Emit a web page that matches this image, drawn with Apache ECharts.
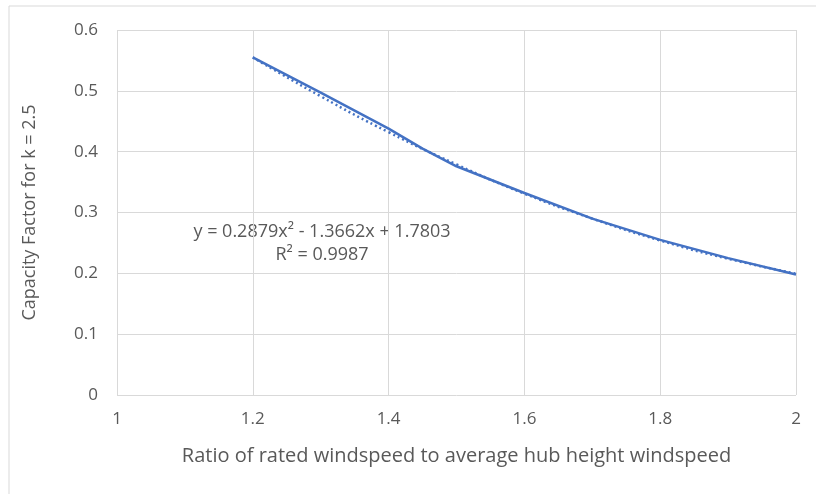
<!DOCTYPE html>
<html>
<head>
<meta charset="utf-8">
<script src="https://cdn.jsdelivr.net/npm/echarts@6/dist/echarts.min.js"></script>
<style>
  html, body { margin: 0; padding: 0; background: #fff; }
  #chart { width: 816px; height: 494px; }
</style>
</head>
<body>
<div id="chart"></div>
<script>
// capacity factor vs ratio
const ratio = [1.2, 1.3, 1.4, 1.45, 1.5, 1.6, 1.7, 1.8, 1.9, 2.0];
const capacityFactor = [0.555, 0.497, 0.438, 0.405, 0.376, 0.332, 0.290, 0.255, 0.225, 0.198];
// polynomial trendline as drawn (dotted)
const trendX = [1.2, 1.3, 1.4, 1.5, 1.6, 1.7, 1.8, 1.9, 2.0];
const trendY = [0.555, 0.491, 0.432, 0.379, 0.331, 0.290, 0.254, 0.224, 0.1995];
const trendLabel = ["y = 0.2879x\u00b2 - 1.3662x + 1.7803", "R\u00b2 = 0.9987"];

const chart = echarts.init(document.getElementById("chart"));
const font = "Open Sans, Liberation Sans, sans-serif";
const grey = "#595959";
const gridGrey = "#d9d9d9";

chart.setOption({
  animation: false,
  grid: { left: 117, right: 20, top: 30, bottom: 99 },
  xAxis: {
    type: "value",
    min: 1, max: 2, interval: 0.2,
    name: "Ratio of rated windspeed to average hub height windspeed",
    nameLocation: "middle",
    nameGap: 51,
    nameTextStyle: { color: grey, fontSize: 20, fontFamily: font },
    axisLine: { show: false },
    axisTick: { show: false },
    axisLabel: { color: grey, fontSize: 17, fontFamily: font, margin: 16 },
    splitLine: { show: true, lineStyle: { color: gridGrey, width: 1 } }
  },
  yAxis: {
    type: "value",
    min: 0, max: 0.6, interval: 0.1,
    name: "Capacity Factor for k = 2.5",
    nameLocation: "middle",
    nameGap: 78,
    nameTextStyle: { color: grey, fontSize: 18, fontFamily: font },
    axisLine: { show: false },
    axisTick: { show: false },
    axisLabel: { color: grey, fontSize: 17, fontFamily: font, margin: 19 },
    splitLine: { show: true, lineStyle: { color: gridGrey, width: 1 } }
  },
  series: [
    {
      type: "line",
      data: ratio.map((x, i) => [x, capacityFactor[i]]),
      showSymbol: false,
      lineStyle: { color: "#4472c4", width: 2.5 },
      z: 3
    },
    {
      type: "line",
      data: trendX.map((x, i) => [x, trendY[i]]),
      smooth: true,
      showSymbol: false,
      lineStyle: { color: "#4472c4", width: 2.5, type: [2, 3] },
      z: 2
    }
  ],
  graphic: [
    {
      type: "rect",
      shape: { x: 9, y: 6, width: 820, height: 500 },
      style: { fill: "none", stroke: gridGrey, lineWidth: 1 },
      silent: true
    },
    {
      type: "text",
      x: 322, y: 232,
      style: {
        text: trendLabel[0], fill: grey, fontSize: 18, fontFamily: font,
        textAlign: "center", textVerticalAlign: "middle"
      }
    },
    {
      type: "text",
      x: 322, y: 255,
      style: {
        text: trendLabel[1], fill: grey, fontSize: 18, fontFamily: font,
        textAlign: "center", textVerticalAlign: "middle"
      }
    }
  ]
});
</script>
</body>
</html>
